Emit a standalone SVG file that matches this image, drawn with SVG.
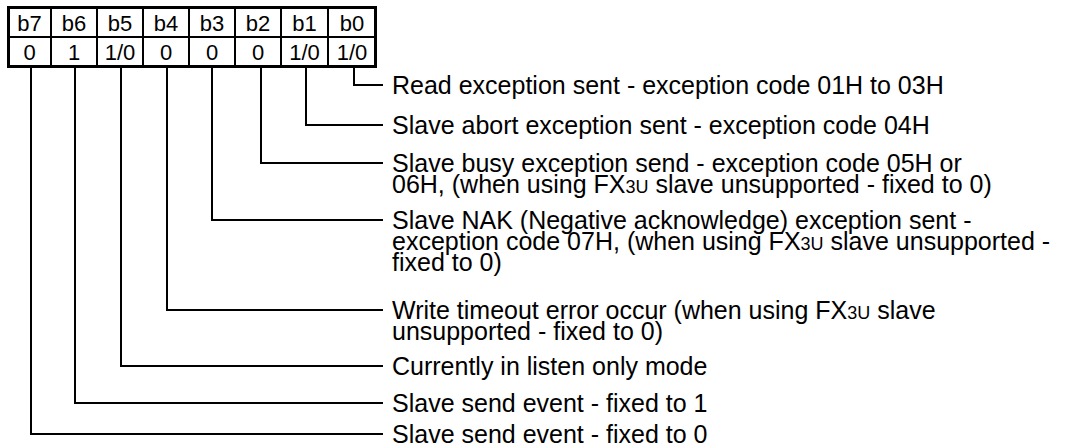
<svg xmlns="http://www.w3.org/2000/svg" width="1066" height="446" viewBox="0 0 1066 446">
<style>
.lbl{font-family:"Liberation Sans",Arial,sans-serif;font-size:25px;fill:#000}
.cell{font-family:"Liberation Sans",Arial,sans-serif;font-size:22px;fill:#000;text-anchor:middle}
.sm{font-size:18px}
.con{fill:none;stroke:#000;stroke-width:2}
.grid{stroke:#000;stroke-width:2}
</style>
<rect width="1066" height="446" fill="#fff"/>
<g id="register">
<rect x="8.5" y="7.5" width="367" height="59" fill="#fff" stroke="#000" stroke-width="3"/>
<line class="grid" x1="8" y1="37" x2="376" y2="37"/>
<line class="grid" x1="51" y1="8" x2="51" y2="66"/>
<line class="grid" x1="97" y1="8" x2="97" y2="66"/>
<line class="grid" x1="143" y1="8" x2="143" y2="66"/>
<line class="grid" x1="189" y1="8" x2="189" y2="66"/>
<line class="grid" x1="235" y1="8" x2="235" y2="66"/>
<line class="grid" x1="281" y1="8" x2="281" y2="66"/>
<line class="grid" x1="328" y1="8" x2="328" y2="66"/>
<text class="cell" x="29.5" y="31">b7</text>
<text class="cell" x="74" y="31">b6</text>
<text class="cell" x="120" y="31">b5</text>
<text class="cell" x="166" y="31">b4</text>
<text class="cell" x="212" y="31">b3</text>
<text class="cell" x="258" y="31">b2</text>
<text class="cell" x="304.5" y="31">b1</text>
<text class="cell" x="352" y="31">b0</text>
<text class="cell" x="29.5" y="60">0</text>
<text class="cell" x="74" y="60">1</text>
<text class="cell" x="120" y="60">1/0</text>
<text class="cell" x="166" y="60">0</text>
<text class="cell" x="212" y="60">0</text>
<text class="cell" x="258" y="60">0</text>
<text class="cell" x="304.5" y="60">1/0</text>
<text class="cell" x="352" y="60">1/0</text>
</g>
<g id="connectors">
<polyline class="con" points="354,67 354,85 383,85"/>
<polyline class="con" points="306,67 306,125 383,125"/>
<polyline class="con" points="261,67 261,163 383,163"/>
<polyline class="con" points="212,67 212,220 383,220"/>
<polyline class="con" points="167,67 167,310 383,310"/>
<polyline class="con" points="121,67 121,366 383,366"/>
<polyline class="con" points="75,67 75,403 383,403"/>
<polyline class="con" points="31,67 31,434 383,434"/>
</g>
<g id="b0-label"><text class="lbl" x="392" y="93.5">Read exception sent - exception code 01H to 03H</text></g>
<g id="b1-label"><text class="lbl" x="392" y="133.5">Slave abort exception sent - exception code 04H</text></g>
<g id="b2-label"><text class="lbl" x="392" y="171.5">Slave busy exception send - exception code 05H or</text><text class="lbl" x="392" y="192.5">06H, (when using FX<tspan class="sm">3U</tspan> slave unsupported - fixed to 0)</text></g>
<g id="b3-label"><text class="lbl" x="392" y="228.5">Slave NAK (Negative acknowledge) exception sent -</text><text class="lbl" x="392" y="249.5">exception code 07H, (when using FX<tspan class="sm">3U</tspan> slave unsupported -</text><text class="lbl" x="392" y="270.5">fixed to 0)</text></g>
<g id="b4-label"><text class="lbl" x="392" y="318.5">Write timeout error occur (when using FX<tspan class="sm">3U</tspan> slave</text><text class="lbl" x="392" y="339.5">unsupported - fixed to 0)</text></g>
<g id="b5-label"><text class="lbl" x="392" y="374.5">Currently in listen only mode</text></g>
<g id="b6-label"><text class="lbl" x="392" y="411.5">Slave send event - fixed to 1</text></g>
<g id="b7-label"><text class="lbl" x="392" y="442.5">Slave send event - fixed to 0</text></g>
</svg>
